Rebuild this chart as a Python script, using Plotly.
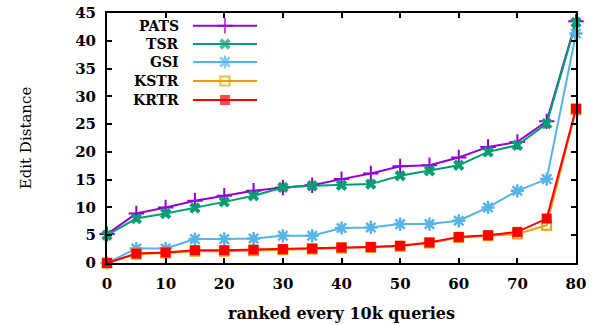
import plotly.graph_objects as go

x_vals = [0, 5, 10, 15, 20, 25, 30, 35, 40, 45, 50, 55, 60, 65, 70, 75, 80]
pats = [5.2, 8.9, 10.0, 11.2, 12.1, 13.0, 13.6, 14.0, 15.1, 16.1, 17.4, 17.6, 19.0, 20.9, 21.8, 25.5, 43.5]
tsr = [5.0, 8.0, 8.9, 9.9, 11.0, 12.1, 13.6, 13.9, 14.0, 14.2, 15.7, 16.6, 17.6, 20.0, 21.2, 25.1, 43.3]
gsi = [0.0, 2.6, 2.6, 4.3, 4.3, 4.4, 4.9, 4.9, 6.3, 6.4, 7.0, 7.0, 7.6, 10.0, 13.0, 15.1, 41.3]
kstr = [0.0, 1.6, 1.8, 2.1, 2.1, 2.2, 2.4, 2.5, 2.7, 2.8, 3.0, 3.6, 4.6, 4.9, 5.2, 6.8, 27.6]
krtr = [0.0, 1.7, 1.9, 2.3, 2.3, 2.4, 2.5, 2.6, 2.8, 2.9, 3.1, 3.7, 4.7, 5.0, 5.6, 8.0, 27.8]

names = ["PATS", "TSR", "GSI", "KSTR", "KRTR"]
series = [pats, tsr, gsi, kstr, krtr]
colors = ["#9400D3", "#009E73", "#56B4E9", "#E69F00", "#FF0000"]
symbols = ["cross-thin-open", "x", "asterisk-open", "square-open", "square"]
sizes = [11, 10, 11, 9, 10]
mlw = [2, 0, 2.5, 2, 0]

x_ticks = [0, 10, 20, 30, 40, 50, 60, 70, 80]
y_ticks = [0, 5, 10, 15, 20, 25, 30, 35, 40, 45]

fig = go.Figure()
for n, s, c, sym, sz, lw in zip(names, series, colors, symbols, sizes, mlw):
    fig.add_trace(go.Scatter(
        x=x_vals, y=s, mode="lines+markers", name=n,
        line=dict(color=c, width=2),
        marker=dict(symbol=sym, size=sz, color=c, line=dict(color=c, width=lw)),
        cliponaxis=False, showlegend=False))

# manual legend (gnuplot style: label right-aligned, then sample)
leg_y = [0.949, 0.876, 0.804, 0.728, 0.652]
for n, c, sym, sz, lw, ly in zip(names, colors, symbols, sizes, mlw, leg_y):
    fig.add_trace(go.Scatter(
        x=[0, 0.5, 1], y=[ly, ly, ly], mode="lines+markers",
        line=dict(color=c, width=2),
        marker=dict(symbol=sym, size=[0, sz, 0], color=c, line=dict(color=c, width=lw)),
        xaxis="x2", yaxis="y2", showlegend=False, hoverinfo="skip"))
    fig.add_annotation(text=n, xref="paper", yref="y2", x=0.156, y=ly,
                       xanchor="right", yanchor="middle", showarrow=False, borderpad=0,
                       font=dict(family="DejaVu Serif", size=14, color="black", weight="bold"))

axis_font = dict(family="DejaVu Serif", size=15, color="black", weight="bold")
fig.update_layout(
    width=606, height=325,
    margin=dict(l=107, r=30, t=13, b=62),
    paper_bgcolor="white", plot_bgcolor="rgba(0,0,0,0)",
    xaxis=dict(range=[0, 80], tickvals=x_ticks, ticktext=[str(v) for v in x_ticks],
               ticks="inside", ticklen=5, tickwidth=1.5, tickcolor="black",
               showline=True, linecolor="black", linewidth=2, mirror="ticks",
               showgrid=False, zeroline=False, tickfont=axis_font, automargin=False,
               ticklabelstandoff=6,
               title=dict(text="ranked every 10k queries", standoff=16,
                          font=dict(family="DejaVu Serif", size=16, color="black", weight="bold"))),
    yaxis=dict(range=[0, 45], tickvals=y_ticks, ticktext=[str(v) for v in y_ticks],
               ticks="inside", ticklen=5, tickwidth=1.5, tickcolor="black",
               showline=True, linecolor="black", linewidth=2, mirror="ticks",
               showgrid=False, zeroline=False, tickfont=axis_font, automargin=False,
               ticklabelstandoff=6,
               title=dict(text="Edit Distance", standoff=40,
                          font=dict(family="DejaVu Serif", size=15, color="black"))),
    xaxis2=dict(domain=[0.183, 0.32], range=[0, 1], visible=False, anchor="y2"),
    yaxis2=dict(domain=[0, 1], range=[0, 1], visible=False, anchor="x2"),
)
fig.write_html("out.html")
